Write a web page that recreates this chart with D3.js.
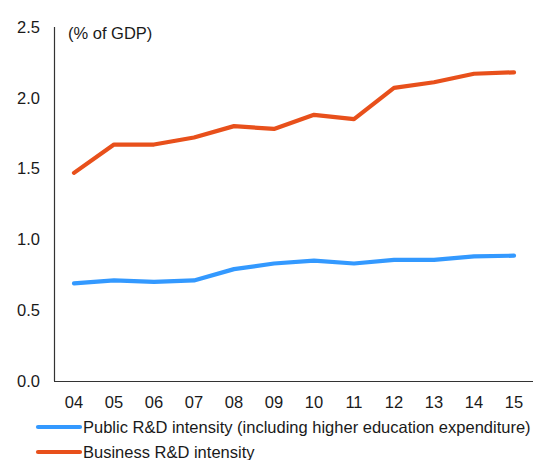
<!DOCTYPE html>
<html>
<head>
<meta charset="utf-8">
<script src="https://cdn.jsdelivr.net/npm/d3@7"></script>
<style>
  body { margin: 0; background: #fff; }
  text { font-family: "Liberation Sans", Arial, sans-serif; fill: #1a1a1a; }
</style>
</head>
<body>
<div id="viz"></div>
<script>
const years = ["04", "05", "06", "07", "08", "09", "10", "11", "12", "13", "14", "15"];
const publicRD = [0.69, 0.71, 0.70, 0.71, 0.79, 0.83, 0.85, 0.83, 0.855, 0.855, 0.88, 0.885];
const businessRD = [1.47, 1.67, 1.67, 1.72, 1.80, 1.78, 1.88, 1.85, 2.07, 2.11, 2.17, 2.18];
const yTicks = [0, 0.5, 1.0, 1.5, 2.0, 2.5];
const seriesNames = ["Public R&D intensity (including higher education expenditure)", "Business R&D intensity"];
const seriesColors = ["#3399ff", "#e8501b"];

document.addEventListener("DOMContentLoaded", () => {
    const width = 533;
    const height = 460;

    const svg = d3.select('#viz').append('svg')
        .attr('width', width)
        .attr('height', height);

    const x = d3.scaleBand().domain(years).range([54, 534]);
    const y = d3.scaleLinear().domain([0, 2.5]).range([381, 27]);

    // axis lines
    svg.append('line')
        .attr('x1', 54.5).attr('x2', 54.5)
        .attr('y1', y(2.5)).attr('y2', y(0))
        .attr('stroke', '#333').attr('stroke-width', 1.2);
    svg.append('line')
        .attr('x1', 54).attr('x2', 533)
        .attr('y1', y(0) + 0.5).attr('y2', y(0) + 0.5)
        .attr('stroke', '#333').attr('stroke-width', 1.2);

    svg.selectAll('.ytick')
        .data(yTicks)
        .enter()
        .append('text')
        .attr('x', 40)
        .attr('y', d => y(d))
        .attr('dy', '0.35em')
        .attr('text-anchor', 'end')
        .style('font-size', '16.5px')
        .text(d => d.toFixed(1));

    svg.selectAll('.xtick')
        .data(years)
        .enter()
        .append('text')
        .attr('x', d => x(d) + x.bandwidth() / 2)
        .attr('y', 408)
        .attr('text-anchor', 'middle')
        .style('font-size', '16.5px')
        .text(d => d);

    svg.append('text')
        .attr('x', 68)
        .attr('y', 39)
        .style('font-size', '16.5px')
        .text('(% of GDP)');

    const line = d3.line()
        .x((d, i) => x(years[i]) + x.bandwidth() / 2)
        .y(d => y(d));

    [publicRD, businessRD].forEach((values, i) => {
        svg.append('path')
            .attr('d', line(values))
            .attr('fill', 'none')
            .attr('stroke', seriesColors[i])
            .attr('stroke-width', 4.2)
            .attr('stroke-linejoin', 'round')
            .attr('stroke-linecap', 'round');
    });

    // legend
    seriesNames.forEach((name, i) => {
        const ly = 427 + i * 25;
        svg.append('line')
            .attr('x1', 38).attr('x2', 80)
            .attr('y1', ly).attr('y2', ly)
            .attr('stroke', seriesColors[i])
            .attr('stroke-width', 4.2)
            .attr('stroke-linecap', 'round');
        svg.append('text')
            .attr('x', 83)
            .attr('y', ly)
            .attr('dy', '0.35em')
            .style('font-size', '16.5px')
            .text(name);
    });
});
</script>
</body>
</html>
